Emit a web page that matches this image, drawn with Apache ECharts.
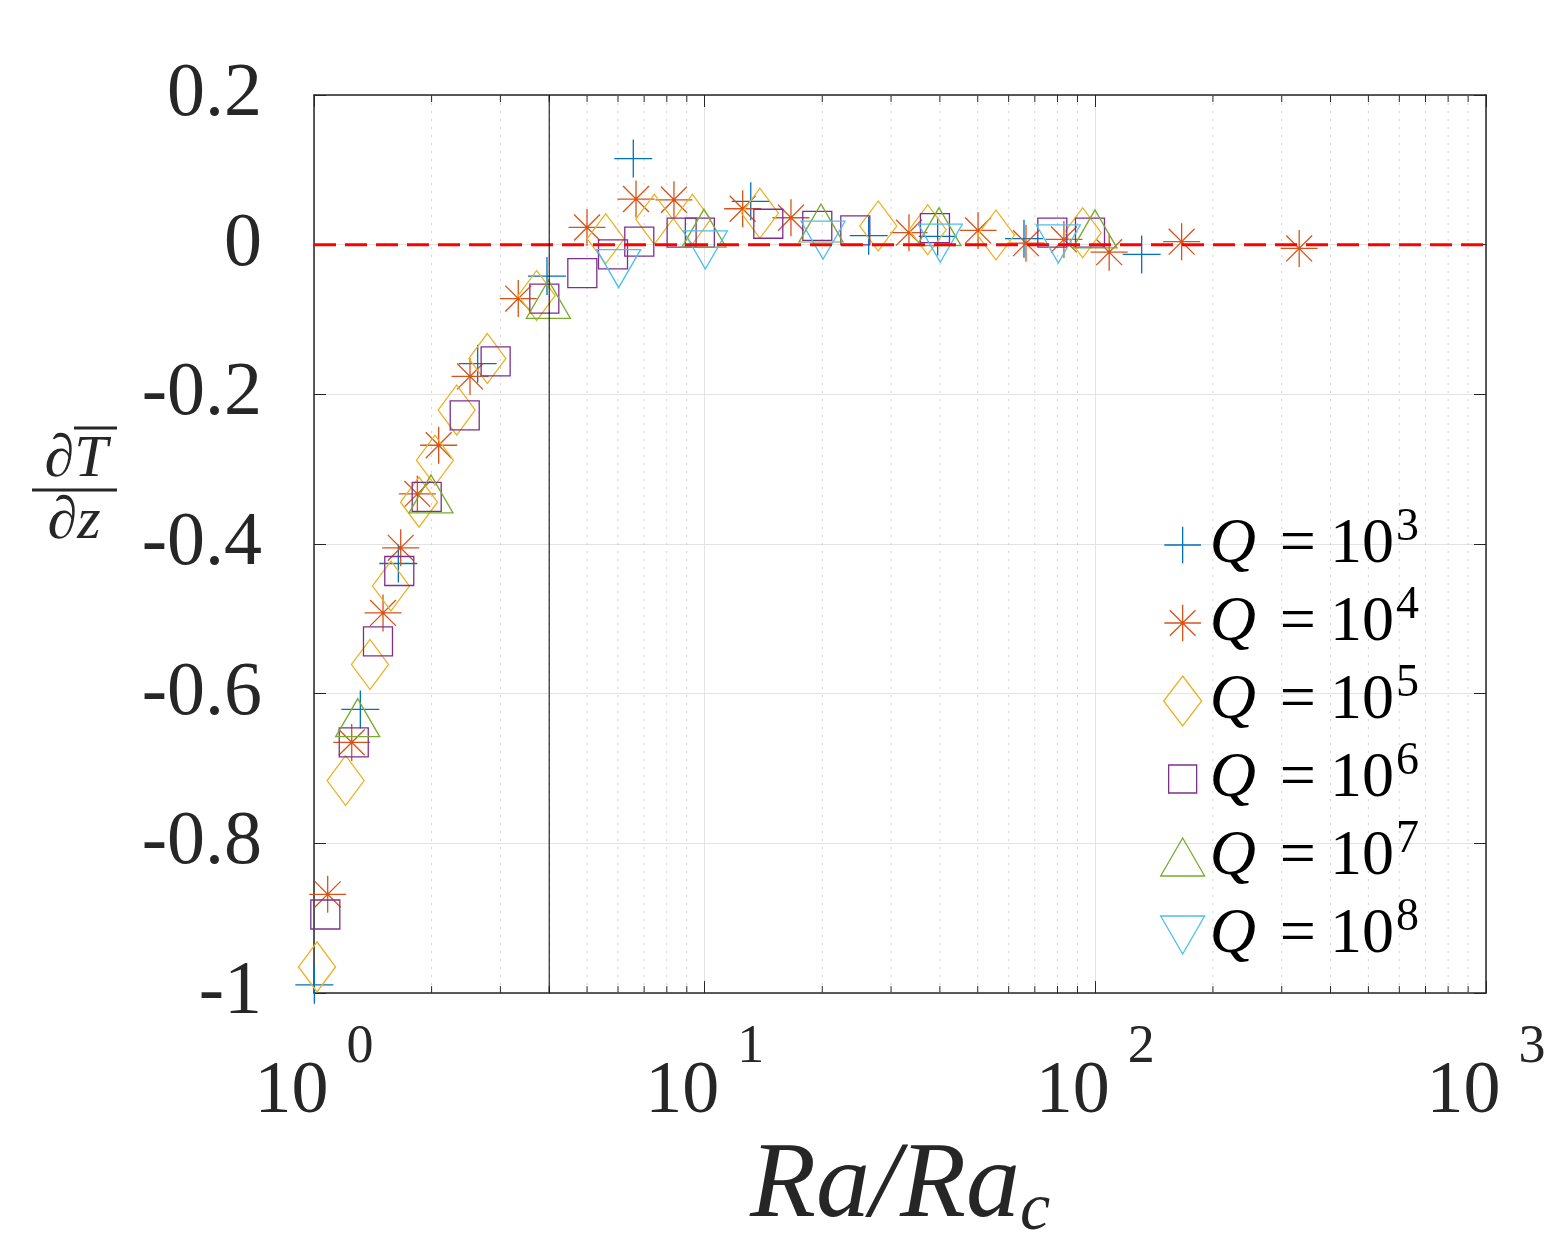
<!DOCTYPE html>
<html>
<head>
<meta charset="utf-8">
<script src="https://cdn.jsdelivr.net/npm/echarts@6/dist/echarts.min.js"></script>
<style>
  html, body { margin: 0; padding: 0; background: #fff; }
  #chart { width: 1563px; height: 1250px; }
</style>
</head>
<body>
<div id="chart"></div>
<script>
// Ra/Ra_c (x) and dT/dz (y) for each Q
const q3x = [1.002, 1.314, 1.644, 2.624, 3.948, 6.566, 13.12, 26.29, 39.48, 65.67, 131.4];
const q3y = [-0.989, -0.621, -0.426, -0.159, -0.042, 0.115, 0.058, 0.012, 0.011, 0.008, -0.013];

const q4x = [1.084, 1.249, 1.502, 1.667, 1.839, 2.085, 2.508, 3.333, 4.998, 6.672, 8.345, 12.51, 16.63, 33.34, 50.1, 66.45, 83.1, 108.5, 166.3, 332.5];
const q4y = [-0.868, -0.665, -0.492, -0.405, -0.333, -0.268, -0.176, -0.072, 0.023, 0.061, 0.060, 0.048, 0.036, 0.016, 0.019, 0.002, 0.007, -0.010, 0.004, -0.005];

const q5x = [1.018, 1.205, 1.391, 1.574, 1.857, 2.04, 2.319, 2.778, 3.715, 5.58, 7.43, 9.30, 13.85, 27.82, 37.23, 55.67, 92.8];
const q5y = [-0.965, -0.716, -0.561, -0.456, -0.344, -0.288, -0.221, -0.152, -0.068, 0.008, 0.034, 0.034, 0.042, 0.025, 0.020, 0.013, 0.016];

const q6x = [1.069, 1.264, 1.458, 1.653, 1.943, 2.431, 2.917, 3.886, 4.862, 5.826, 6.802, 8.73, 9.72, 14.55, 19.42, 24.3, 38.86, 77.6, 96.9];
const q6y = [-0.895, -0.665, -0.530, -0.436, -0.337, -0.228, -0.156, -0.072, -0.038, -0.013, 0.004, 0.016, 0.016, 0.028, 0.025, 0.019, 0.022, 0.016, 0.016];

const q7x = [1.294, 1.993, 3.98, 9.96, 19.85, 39.8, 99.8];
const q7y = [-0.632, -0.333, -0.073, 0.022, 0.029, 0.024, 0.021];

const q8x = [6.024, 10.04, 20.09, 40.1, 80.4];
const q8y = [-0.032, -0.007, 0.006, 0.002, 0.001];

const qExp = [3, 4, 5, 6, 7, 8];
const names = qExp.map(e => 'Q = 10^' + e);
const colors = ['#0072BD', '#D95319', '#EDB120', '#7E2F8E', '#77AC30', '#4DBEEE'];

const yTicks = ['-1', '-0.8', '-0.6', '-0.4', '-0.2', '0', '0.2'];
const critRa = 4;   // vertical reference line
const xRange = [1, 1000];
const yRange = [-1, 0.2];

// minor log positions 2..9 in each decade
const minorX = [];
for (let d = 1; d <= 100; d *= 10) {
  for (let k = 2; k <= 9; k++) minorX.push(k * d);
}

const zip = (xs, ys) => xs.map((x, i) => [x, ys[i]]);

const plusPath = 'path://M0,50L100,50M50,0L50,100';
const starPath = 'path://M0,50L100,50M50,0L50,100M15,15L85,85M85,15L15,85';

const serif = '"Liberation Serif", "Times New Roman", serif';

const markers = [
  { symbol: plusPath, size: [38, 38], rotate: 0, icon: 'path://M-10,-10M110,110M0,50L100,50M50,0L50,100' },
  { symbol: starPath, size: [37, 37], rotate: 0, icon: 'path://M-10,-10M110,110M0,50L100,50M50,0L50,100M15,15L85,85M85,15L15,85' },
  { symbol: 'diamond', size: [37, 50], rotate: 0, icon: 'path://M19,0L38,25L19,50L0,25Z' },
  { symbol: 'rect', size: [29, 29], rotate: 0, icon: 'path://M-8,-8M36,36M0,0L28,0L28,28L0,28Z' },
  { symbol: 'triangle', size: [44, 38], rotate: 0, icon: 'path://M0,38L22,0L44,38Z' },
  { symbol: 'triangle', size: [44, 38], rotate: 180, icon: 'path://M0,0L44,0L22,38Z' }
];

const datasets = [zip(q3x, q3y), zip(q4x, q4y), zip(q5x, q5y), zip(q6x, q6y), zip(q7x, q7y), zip(q8x, q8y)];

const scatterSeries = datasets.map((d, i) => ({
  name: names[i],
  type: 'scatter',
  xAxisIndex: 0,
  yAxisIndex: 0,
  data: d,
  symbol: markers[i].symbol,
  symbolSize: markers[i].size,
  symbolRotate: markers[i].rotate,
  itemStyle: { color: 'rgba(0,0,0,0)', borderColor: colors[i], borderWidth: 1.3, opacity: 1 },
  emphasis: { disabled: true },
  z: 3
}));

const chart = echarts.init(document.getElementById('chart'));

const option = {
  animation: false,
  backgroundColor: '#fff',
  grid: { left: 314, right: 77, top: 95, bottom: 255, containLabel: false },
  xAxis: [
    {
      type: 'log',
      logBase: 10,
      min: xRange[0],
      max: xRange[1],
      position: 'bottom',
      axisLine: { show: true, onZero: false, lineStyle: { color: '#262626', width: 1.5 } },
      axisTick: { show: true, inside: true, length: 12, lineStyle: { color: '#262626' } },
      splitLine: { show: true, lineStyle: { color: '#e3e3e3', width: 1 } },
      axisLabel: {
        margin: 18,
        formatter: v => '{b|10}{e|' + Math.round(Math.log10(v)) + '}',
        rich: {
          b: { fontFamily: serif, fontSize: 74, color: '#262626', padding: [44, 0, 0, 0] },
          e: { fontFamily: serif, fontSize: 54, color: '#262626', padding: [0, 0, 44, 18] }
        }
      },
      name: '{i|Ra/Ra}{s|c}',
      nameLocation: 'middle',
      nameGap: 136,
      nameTextStyle: {
        rich: {
          i: { fontFamily: serif, fontStyle: 'italic', fontSize: 108, color: '#262626' },
          s: { fontFamily: serif, fontStyle: 'italic', fontSize: 68, color: '#262626', padding: [46, 0, 0, 0] }
        }
      }
    },
    {
      type: 'log',
      logBase: 10,
      min: xRange[0],
      max: xRange[1],
      position: 'top',
      axisLine: { show: true, onZero: false, lineStyle: { color: '#262626', width: 1.5 } },
      axisTick: { show: true, inside: true, length: 12, lineStyle: { color: '#262626' } },
      axisLabel: { show: false },
      splitLine: { show: false }
    }
  ],
  yAxis: [
    {
      type: 'value',
      min: yRange[0],
      max: yRange[1],
      interval: 0.2,
      axisLine: { show: true, onZero: false, lineStyle: { color: '#262626', width: 1.5 } },
      axisTick: { show: true, inside: true, length: 12, lineStyle: { color: '#262626' } },
      splitLine: { show: true, lineStyle: { color: '#e3e3e3', width: 1 } },
      axisLabel: {
        margin: 52,
        fontFamily: serif,
        fontSize: 76,
        color: '#262626',
        formatter: v => yTicks[Math.round((v + 1) / 0.2)]
      }
    },
    {
      type: 'value',
      min: yRange[0],
      max: yRange[1],
      interval: 0.2,
      position: 'right',
      axisLine: { show: true, onZero: false, lineStyle: { color: '#262626', width: 1.5 } },
      axisTick: { show: true, inside: true, length: 12, lineStyle: { color: '#262626' } },
      axisLabel: { show: false },
      splitLine: { show: false }
    }
  ],
  legend: {
    orient: 'vertical',
    left: 1155,
    top: 500,
    itemWidth: 44,
    itemHeight: 50,
    itemGap: 6,
    symbolKeepAspect: true,
    data: names.map((n, i) => ({
      name: n,
      icon: markers[i].icon,
      itemStyle: { color: 'rgba(0,0,0,0)', borderColor: colors[i], borderWidth: 1.3 }
    })),
    formatter: n => {
      const e = n.split('^')[1];
      return '{q|Q}{eq|=}{n|10}{e|' + e + '}';
    },
    textStyle: {
      rich: {
        q: { fontFamily: serif, fontStyle: 'italic', fontSize: 64, color: '#000' },
        eq: { fontFamily: serif, fontSize: 64, color: '#000', padding: [0, 14, 0, 24] },
        n: { fontFamily: serif, fontSize: 64, color: '#000' },
        e: { fontFamily: serif, fontSize: 46, color: '#000', padding: [0, 0, 34, 2] }
      }
    }
  },
  graphic: [
    { type: 'text', x: 76, y: 460, style: { text: '\u2202T', font: 'italic 60px "Liberation Serif"', fill: '#262626', align: 'center', verticalAlign: 'middle' } },
    { type: 'line', shape: { x1: 74, y1: 428, x2: 117, y2: 428 }, style: { stroke: '#262626', lineWidth: 3 } },
    { type: 'line', shape: { x1: 32, y1: 490, x2: 117, y2: 490 }, style: { stroke: '#262626', lineWidth: 3 } },
    { type: 'text', x: 74, y: 522, style: { text: '\u2202z', font: 'italic 60px "Liberation Serif"', fill: '#262626', align: 'center', verticalAlign: 'middle' } }
  ],
  series: [
    {
      type: 'custom',
      xAxisIndex: 0,
      yAxisIndex: 0,
      silent: true,
      z: 1,
      data: minorX.map(v => [v, 0]),
      renderItem: (params, api) => {
        const v = api.value(0);
        const top = api.coord([v, yRange[1]]);
        const bot = api.coord([v, yRange[0]]);
        return {
          type: 'group',
          children: [
            { type: 'line', shape: { x1: top[0], y1: top[1], x2: bot[0], y2: bot[1] }, style: { stroke: '#cfcfcf', lineWidth: 1, lineDash: [2, 6] } },
            { type: 'line', shape: { x1: bot[0], y1: bot[1], x2: bot[0], y2: bot[1] - 7 }, style: { stroke: '#262626', lineWidth: 1 } },
            { type: 'line', shape: { x1: top[0], y1: top[1], x2: top[0], y2: top[1] + 7 }, style: { stroke: '#262626', lineWidth: 1 } }
          ]
        };
      }
    },
    ...scatterSeries,
    {
      name: 'zeroLine',
      type: 'line',
      xAxisIndex: 0,
      yAxisIndex: 0,
      data: [[xRange[0], 0], [xRange[1], 0]],
      symbol: 'none',
      silent: true,
      z: 4,
      lineStyle: { color: '#ff0000', width: 3, type: [22, 9] }
    },
    {
      name: 'critLine',
      type: 'line',
      xAxisIndex: 0,
      yAxisIndex: 0,
      data: [[critRa, yRange[0]], [critRa, yRange[1]]],
      symbol: 'none',
      silent: true,
      z: 4,
      lineStyle: { color: '#000', width: 1, type: 'solid' }
    }
  ]
};

chart.setOption(option);
</script>
</body>
</html>
